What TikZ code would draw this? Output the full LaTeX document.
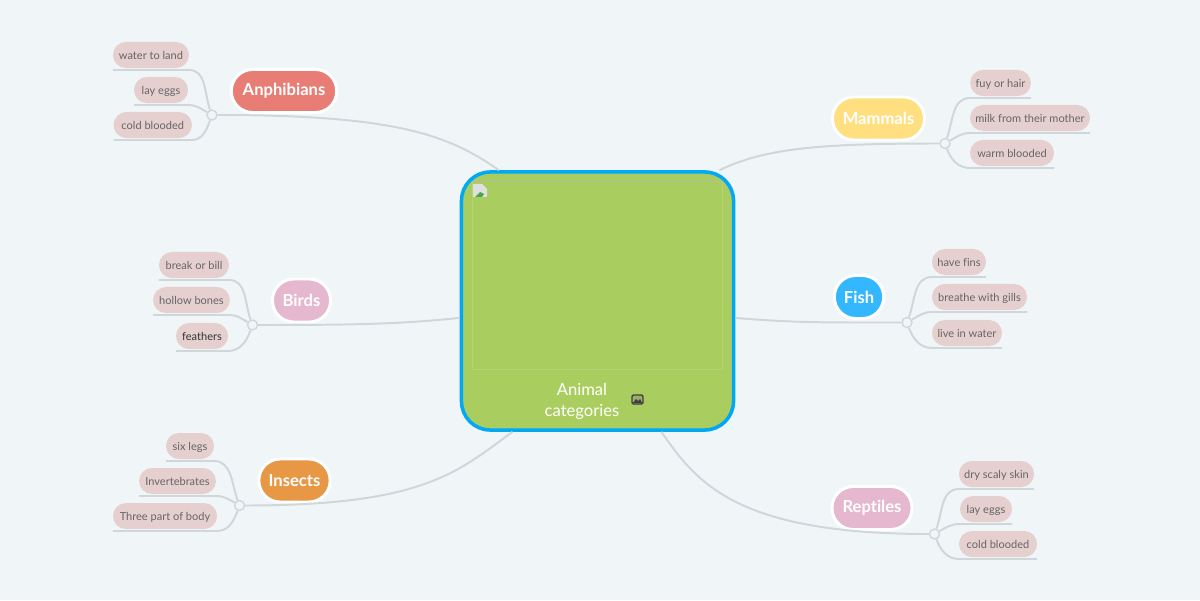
\documentclass[tikz,border=0pt]{standalone}
\usepackage{fontspec}
\setmainfont{Lato}[Ligatures=CommonOff]
\definecolor{pagebg}{HTML}{F0F5F8}
\definecolor{linegray}{HTML}{CFD7DB}
\definecolor{leaffill}{HTML}{E5CFCF}
\definecolor{leaftext}{HTML}{666666}
\definecolor{mainfill}{HTML}{A9CD5F}
\definecolor{mainedge}{HTML}{00A8F5}
\definecolor{frameside}{HTML}{B4D473}
\definecolor{frametop}{HTML}{B5BDA0}
\definecolor{anphred}{HTML}{E87D75}
\definecolor{mammyellow}{HTML}{FFDF80}
\definecolor{birdpink}{HTML}{E6B8D0}
\definecolor{fishblue}{HTML}{33B8FF}
\definecolor{insectorange}{HTML}{E89845}
\begin{document}
\begin{tikzpicture}[
                x=0.025cm, y=0.025cm,
                mainbox/.style={rectangle, draw=mainedge, fill=mainfill, line width=2.5pt, rounded corners=0.72cm, minimum width=6.8cm, minimum height=6.45cm},
                maintext/.style={text=white, align=center, font=\fontsize{11.8}{15}\selectfont},
                topic/.style={rectangle, draw=white, line width=2.1pt, rounded corners=0.53cm, minimum height=1.075cm, inner sep=0pt, text=white, font=\fontsize{11.8}{13}\selectfont\bfseries},
                leaf/.style={rectangle, fill=leaffill, rounded corners=0.325cm, minimum height=0.65cm, inner sep=0pt, outer xsep=0pt, outer ysep=0.05cm, text height=7pt, text depth=0pt, text=leaftext, font=\fontsize{7.85}{9}\selectfont},
                hub/.style={circle, draw=linegray, fill=pagebg, line width=1pt, minimum size=0.25cm, inner sep=0pt},
                link/.style={draw=linegray, line width=1.4pt}
            ]
                \fill[pagebg] (0,0) rectangle (1200,600);
                \useasboundingbox (0,0) rectangle (1200,600);

                % centre
                \node[mainbox] (main) at (597.5,299) {};
                \draw[frameside, line width=0.7pt] (472,231) rectangle (722,419);
                \draw[frametop, line width=1.4pt] (472,418.5) -- (722,418.5);
                \node[maintext] (title) at (582,199) {Animal\\categories};

                % broken image mark
                \fill[gray!25] (473,416) -- (482,416) -- (487,411) -- (487,403) -- (473,403) -- cycle;
                \fill[green!50!black!70] (475,403) -- (480,408) -- (484,406) -- (482,403) -- cycle;
                % picture mark
                \draw[black!75, fill=mainfill!60!gray, line width=1pt, rounded corners=1pt] (632,196) rectangle (643,205);
                \fill[black!75] (633,197) -- (636,201) -- (638,199) -- (640,201) -- (642,197) -- cycle;

                % topics
                \node[topic, fill=anphred, minimum width=2.63cm] (anph) at (284,509) {Anphibians};
                \node[topic, fill=mammyellow, minimum width=2.3cm] (mamm) at (878.5,481.5) {Mammals};
                \node[topic, fill=birdpink, minimum width=1.45cm] (bird) at (301.5,299.5) {Birds};
                \node[topic, fill=fishblue, minimum width=1.23cm] (fish) at (859,303) {Fish};
                \node[topic, fill=insectorange, minimum width=1.78cm] (insect) at (294.5,119.5) {Insects};
                \node[topic, fill=birdpink, minimum width=2cm] (rept) at (872,92) {Reptiles};

                % hubs
                \node[hub] (anphhub) at (212,485) {};
                \node[hub] (mammhub) at (945,456.5) {};
                \node[hub] (birdhub) at (252.5,275) {};
                \node[hub] (fishhub) at (907,277.5) {};
                \node[hub] (insecthub) at (239.5,94.5) {};
                \node[hub] (repthub) at (934.5,66) {};

                % leaves
                \node[leaf, minimum width=1.9cm] (anph1) at (151,545) {water to land};
                \node[leaf, minimum width=1.35cm] (anph2) at (161,510) {lay eggs};
                \node[leaf, minimum width=1.96cm] (anph3) at (152.75,475) {cold blooded};
                \node[leaf, minimum width=1.52cm] (mamm1) at (1000.5,517) {fuy or hair};
                \node[leaf, minimum width=3cm] (mamm2) at (1030,482) {milk from their mother};
                \node[leaf, minimum width=2.1cm] (mamm3) at (1012,447) {warm blooded};
                \node[leaf, minimum width=1.75cm] (bird1) at (194,335) {break or bill};
                \node[leaf, minimum width=1.92cm] (bird2) at (191.5,300) {hollow bones};
                \node[leaf, minimum width=1.3cm, text=black!80] (bird3) at (202,264) {feathers};
                \node[leaf, minimum width=1.35cm] (fish1) at (959,338) {have fins};
                \node[leaf, minimum width=2.38cm] (fish2) at (979.5,303) {breathe with gills};
                \node[leaf, minimum width=1.75cm] (fish3) at (967,267) {live in water};
                \node[leaf, minimum width=1.2cm] (insect1) at (190,154) {six legs};
                \node[leaf, minimum width=1.92cm] (insect2) at (177.5,119) {Invertebrates};
                \node[leaf, minimum width=2.6cm] (insect3) at (165,84) {Three part of body};
                \node[leaf, minimum width=1.88cm] (rept1) at (996.5,126) {dry scaly skin};
                \node[leaf, minimum width=1.3cm] (rept2) at (986,91) {lay eggs};
                \node[leaf, minimum width=1.95cm] (rept3) at (998,56) {cold blooded};

                % main to hubs
                \draw[link] (anphhub) .. controls +(185,0) and +(-50,35) .. (main.127);
                \draw[link] (mammhub) .. controls +(-125,0) and +(45,22) .. (main.47);
                \draw[link] (birdhub) .. controls +(110,0) and +(-60,-6) .. (main.187);
                \draw[link] (fishhub) .. controls +(-85,0) and +(60,-5) .. (main.353);
                \draw[link] (insecthub) .. controls +(185,0) and +(-55,-40) .. (main.237);
                \draw[link] (repthub) .. controls +(-200,0) and +(35,-50) .. (main.296);

                % hubs to leaves, left side
                \foreach \hubname/\leafname/\outangle in {anphhub/anph1/110, anphhub/anph2/150, anphhub/anph3/250,
                    birdhub/bird1/110, birdhub/bird2/150, birdhub/bird3/250,
                    insecthub/insect1/110, insecthub/insect2/150, insecthub/insect3/250}
                    \draw[link] (\hubname) to[out=\outangle, in=0] (\leafname.south east) -- (\leafname.south west);
                % hubs to leaves, right side
                \foreach \hubname/\leafname/\outangle in {mammhub/mamm1/70, mammhub/mamm2/30, mammhub/mamm3/290,
                    fishhub/fish1/70, fishhub/fish2/30, fishhub/fish3/290,
                    repthub/rept1/70, repthub/rept2/30, repthub/rept3/290}
                    \draw[link] (\hubname) to[out=\outangle, in=180] (\leafname.south west) -- (\leafname.south east);
            \end{tikzpicture}
\end{document}
